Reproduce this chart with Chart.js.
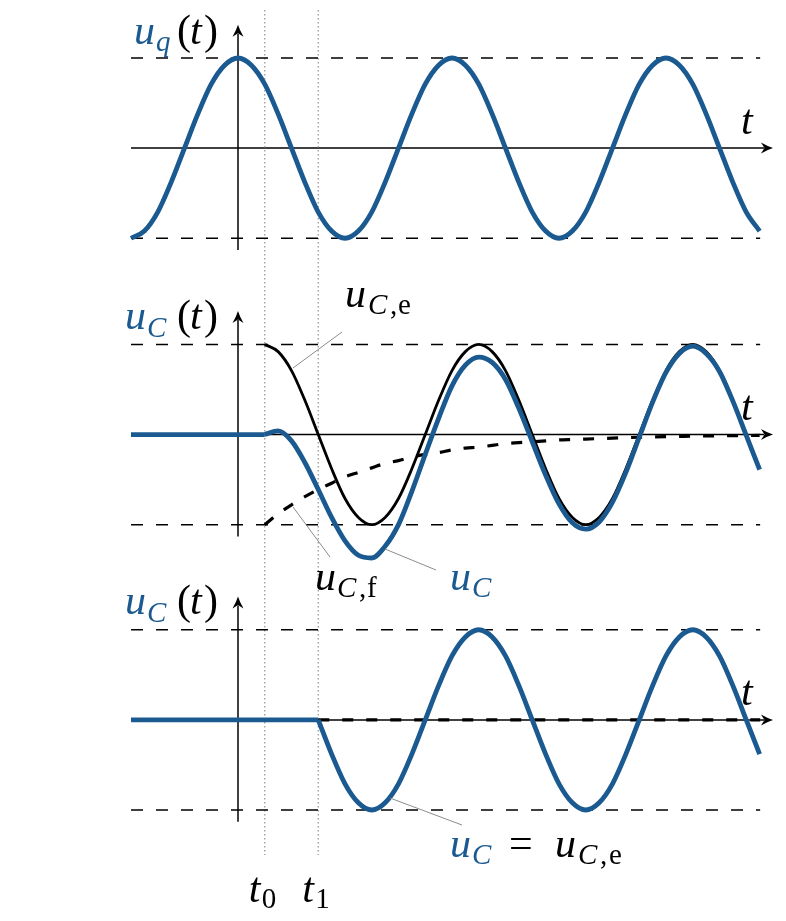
<!DOCTYPE html>
<html>
<head>
<meta charset="utf-8">
<script src="https://cdn.jsdelivr.net/npm/chart.js@4/dist/chart.umd.min.js"></script>
<style>
  html, body { margin: 0; background: #fff; }
  canvas { display: block; }
</style>
</head>
<body>
<canvas id="grafico" width="786" height="921"></canvas>
<script>
// tiempo en periodos (T = 1), muestras cada T/16
const tFull = [
  -0.5, -0.4375, -0.375, -0.3125, -0.25, -0.1875, -0.125, -0.0625,
  0, 0.0625, 0.125, 0.1875, 0.25, 0.3125, 0.375, 0.4375,
  0.5, 0.5625, 0.625, 0.6875, 0.75, 0.8125, 0.875, 0.9375,
  1, 1.0625, 1.125, 1.1875, 1.25, 1.3125, 1.375, 1.4375,
  1.5, 1.5625, 1.625, 1.6875, 1.75, 1.8125, 1.875, 1.9375,
  2, 2.0625, 2.125, 2.1875, 2.25, 2.3125, 2.375, 2.4375
];
const tSwitch = tFull.slice(10); // desde t0
const tStep = tFull.slice(14);   // desde t1

const uq = [
  -1, -0.92, -0.71, -0.38, 0, 0.38, 0.71, 0.92, 1, 0.92, 0.71, 0.38, 0, -0.38, -0.71, -0.92,
  -1, -0.92, -0.71, -0.38, 0, 0.38, 0.71, 0.92, 1, 0.92, 0.71, 0.38, 0, -0.38, -0.71, -0.92,
  -1, -0.92, -0.71, -0.38, 0, 0.38, 0.71, 0.92, 1, 0.92, 0.71, 0.38, 0, -0.38, -0.71, -0.92
];
const uCe = [
  1, 0.92, 0.71, 0.38, 0, -0.38, -0.71, -0.92, -1, -0.92, -0.71, -0.38, 0, 0.38, 0.71, 0.92,
  1, 0.92, 0.71, 0.38, 0, -0.38, -0.71, -0.92, -1, -0.92, -0.71, -0.38, 0, 0.38, 0.71, 0.92,
  1, 0.92, 0.71, 0.38, 0, -0.38
];
const uCf = [
  -1, -0.88, -0.78, -0.69, -0.61, -0.54, -0.47, -0.42, -0.37, -0.32, -0.29, -0.25, -0.22,
  -0.2, -0.17, -0.15, -0.14, -0.12, -0.1, -0.09, -0.08, -0.07, -0.06, -0.055, -0.05, -0.045,
  -0.04, -0.035, -0.03, -0.027, -0.024, -0.021, -0.018, -0.016, -0.014, -0.013, -0.011, -0.01
];
const uC2 = [
  0, 0.04, -0.07, -0.31, -0.61, -0.92, -1.18, -1.34, -1.37, -1.24, -1.0, -0.63, -0.22,
  0.18, 0.54, 0.77, 0.86, 0.8, 0.61, 0.29, -0.08, -0.45, -0.77, -0.98, -1.05, -0.97,
  -0.75, -0.42, -0.03, 0.36, 0.69, 0.9, 0.98, 0.9, 0.7, 0.37, -0.01, -0.39
];
const uC3 = [
  0, -0.38, -0.71, -0.92, -1, -0.92, -0.71, -0.38, 0, 0.38, 0.71, 0.92, 1, 0.92, 0.71, 0.38,
  0, -0.38, -0.71, -0.92, -1, -0.92, -0.71, -0.38, 0, 0.38, 0.71, 0.92, 1, 0.92, 0.71, 0.38,
  0, -0.38
];
const markerT = [0.125, 0.375];
const markerSub = ["0", "1"];
const panelOffset = [0, -3.178, -6.344];

const BLUE = "#1b5a90";
const FONT = '"Liberation Serif", "DejaVu Serif", serif';
const M = 42, S = 29;

function serie(ts, vals, p) {
  return ts.map((t, i) => ({ x: t, y: vals[i] + panelOffset[p] }));
}
function recta(t0, t1, v, p) {
  return [{ x: t0, y: v + panelOffset[p] }, { x: t1, y: v + panelOffset[p] }];
}
function ds(data, color, width, extra) {
  return Object.assign({
    data, borderColor: color, borderWidth: width, pointRadius: 0,
    fill: false, clip: false, tension: 0
  }, extra || {});
}
const curva = { cubicInterpolationMode: "monotone" };
const raya = { borderDash: [12, 13] };

const datasets = [
  ds(serie(tFull, uq, 0), BLUE, 4.8, curva),
  ds(recta(-0.5, markerT[0], 0, 1), BLUE, 4.8),
  ds(serie(tSwitch, uC2, 1), BLUE, 4.8, curva),
  ds(recta(-0.5, markerT[1], 0, 2), BLUE, 4.8),
  ds(serie(tStep, uC3, 2), BLUE, 4.8, curva),
  ds(serie(tSwitch, uCf, 1), "#000", 3.2, Object.assign({ borderDash: [11, 13] }, curva)),
  ds(recta(markerT[1], 2.44, 0, 2), "#000", 3.2, { borderDash: [11, 13] }),
  ds(serie(tSwitch, uCe, 1), "#000", 2.8, curva)
];
panelOffset.forEach((off, p) => {
  datasets.push(ds(recta(-0.5, 2.44, 1, p), "#000", 1.5, raya));
  datasets.push(ds(recta(-0.5, 2.44, -1, p), "#000", 1.5, raya));
});
markerT.forEach(t => {
  datasets.push(ds([{ x: t, y: 1.533 }, { x: t, y: -7.843 }], "#9a9a9a", 1.3, { borderDash: [1.5, 2.5] }));
});

function txt(ctx, s, x, y, size, it, color) {
  ctx.font = (it ? "italic " : "") + size + "px " + FONT;
  ctx.fillStyle = color || "#000";
  ctx.fillText(s, x, y);
}
function linea(ctx, x0, y0, x1, y1) {
  ctx.beginPath(); ctx.moveTo(x0, y0); ctx.lineTo(x1, y1); ctx.stroke();
}
function flecha(ctx, x, y, ang) {
  ctx.save();
  ctx.translate(x, y); ctx.rotate(ang);
  ctx.beginPath();
  ctx.moveTo(0, 0);
  ctx.quadraticCurveTo(-5, -1.5, -12, -5.5);
  ctx.lineTo(-8.5, 0);
  ctx.lineTo(-12, 5.5);
  ctx.quadraticCurveTo(-5, 1.5, 0, 0);
  ctx.fill();
  ctx.restore();
}

const figura = {
  id: "figura",
  beforeDatasetsDraw(chart) {
    const { ctx, scales: { x, y } } = chart;
    ctx.save();
    ctx.strokeStyle = "#000"; ctx.fillStyle = "#000"; ctx.lineWidth = 1.5;
    panelOffset.forEach(off => {
      const py = y.getPixelForValue(off);
      const x0 = x.getPixelForValue(-0.5), x1 = x.getPixelForValue(2.5);
      linea(ctx, x0, py, x1 - 9, py);
      flecha(ctx, x1, py, 0);
      const px = x.getPixelForValue(0);
      const yb = y.getPixelForValue(off - 1.13), yt = y.getPixelForValue(off + 1.37);
      linea(ctx, px, yb, px, yt + 9);
      flecha(ctx, px, yt, -Math.PI / 2);
    });
    ctx.restore();
  },
  afterDatasetsDraw(chart) {
    const { ctx, scales: { x } } = chart;
    ctx.save();
    ctx.textBaseline = "alphabetic";
    // líneas de referencia de las etiquetas
    ctx.strokeStyle = "#8c8c8c"; ctx.lineWidth = 1;
    linea(ctx, 293, 368, 342, 332);
    linea(ctx, 293, 507, 330, 557);
    linea(ctx, 385, 549, 436, 570);
    linea(ctx, 390, 798, 462, 825);

    // u_q(t)
    txt(ctx, "u", 134, 44, M, true, BLUE);
    txt(ctx, "q", 156, 51, S, true, BLUE);
    txt(ctx, "(", 177, 44, M, false);
    txt(ctx, "t", 190, 44, M, true);
    txt(ctx, ")", 204, 44, M, false);
    // u_C(t) en los paneles 2 y 3
    [329, 614].forEach(b => {
      txt(ctx, "u", 125, b, M, true, BLUE);
      txt(ctx, "C", 147, b + 8, S, true, BLUE);
      txt(ctx, "(", 177, b, M, false);
      txt(ctx, "t", 190, b, M, true);
      txt(ctx, ")", 204, b, M, false);
    });
    // eje t
    [134, 420, 705].forEach(b => txt(ctx, "t", 741, b, M, true));

    // u_C,e
    txt(ctx, "u", 345, 307, M, true);
    txt(ctx, "C", 368, 314, S, true);
    txt(ctx, ",", 390, 314, S, false);
    txt(ctx, "e", 398, 314, S, false);
    // u_C,f
    txt(ctx, "u", 315, 590, M, true);
    txt(ctx, "C", 337, 597, S, true);
    txt(ctx, ",", 359, 597, S, false);
    txt(ctx, "f", 367, 597, S, false);
    // u_C
    txt(ctx, "u", 450, 590, M, true, BLUE);
    txt(ctx, "C", 472, 597, S, true, BLUE);
    // u_C = u_C,e
    txt(ctx, "u", 450, 857, M, true, BLUE);
    txt(ctx, "C", 472, 864, S, true, BLUE);
    txt(ctx, "=", 509, 857, M, false);
    txt(ctx, "u", 555, 857, M, true);
    txt(ctx, "C", 578, 864, S, true);
    txt(ctx, ",", 600, 864, S, false);
    txt(ctx, "e", 609, 864, S, false);

    // t0, t1
    markerT.forEach((t, i) => {
      const px = x.getPixelForValue(t);
      txt(ctx, "t", px - 16, 902, M, true);
      txt(ctx, markerSub[i], px - 3, 908, S, false);
    });
    ctx.restore();
  }
};

new Chart(document.getElementById("grafico"), {
  type: "line",
  data: { datasets },
  options: {
    responsive: false,
    animation: false,
    devicePixelRatio: 1,
    events: [],
    layout: { padding: { left: 131, right: 13, top: 58, bottom: 111 } },
    scales: {
      x: { type: "linear", min: -0.5, max: 2.5, display: false },
      y: { type: "linear", min: -7.344, max: 1, display: false }
    },
    plugins: { legend: { display: false }, tooltip: { enabled: false } }
  },
  plugins: [figura]
});
</script>
</body>
</html>
